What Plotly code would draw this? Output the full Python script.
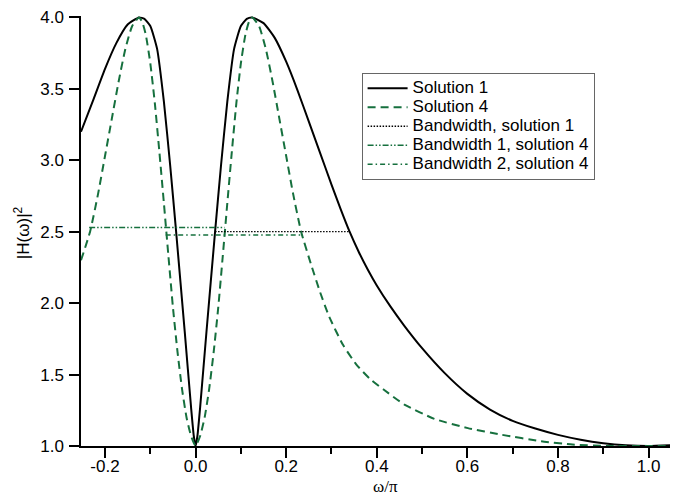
import plotly.graph_objects as go

# ---- data ----
sol1_x = [-0.253, -0.225, -0.20, -0.175, -0.15, -0.125,
          -0.113, -0.10, -0.085, -0.07, -0.056, -0.043, -0.024, -0.01, -0.004, 0.0,
          0.004, 0.01, 0.024, 0.043, 0.056, 0.07, 0.085, 0.10, 0.113, 0.125,
          0.15, 0.175, 0.20, 0.225, 0.25, 0.275, 0.30, 0.32, 0.34, 0.36,
          0.38, 0.40, 0.43, 0.46, 0.50, 0.55, 0.60, 0.65, 0.70, 0.75,
          0.80, 0.85, 0.90, 0.95, 1.0, 1.065]
sol1_y = [3.20, 3.43, 3.64, 3.82, 3.95, 4.00,
          3.99, 3.94, 3.78, 3.41, 2.96, 2.50, 1.80, 1.27, 1.07, 1.00,
          1.07, 1.27, 1.80, 2.50, 2.96, 3.41, 3.78, 3.94, 3.99, 4.00,
          3.96, 3.855, 3.69, 3.49, 3.27, 3.05, 2.83, 2.66, 2.50, 2.36,
          2.236, 2.124, 1.977, 1.845, 1.685, 1.51, 1.365, 1.255, 1.176, 1.122,
          1.078, 1.044, 1.0195, 1.005, 1.0, 1.008]

sol4_x = [-0.253, -0.233, -0.215, -0.20, -0.185, -0.17, -0.155, -0.14, -0.125,
          -0.118, -0.11, -0.10, -0.09, -0.08, -0.07, -0.06, -0.05, -0.04, -0.03, -0.02, -0.01, 0.0,
          0.01, 0.02, 0.03, 0.04, 0.05, 0.06, 0.07, 0.08, 0.09, 0.10, 0.11, 0.118, 0.125,
          0.14, 0.155, 0.17, 0.185, 0.20, 0.215, 0.233, 0.255, 0.275, 0.295,
          0.325, 0.355, 0.385, 0.415, 0.461, 0.527, 0.601, 0.675, 0.763, 0.832,
          0.907, 1.0, 1.065]
sol4_y = [2.30, 2.50, 2.77, 3.03, 3.29, 3.55, 3.78, 3.94, 4.00,
          3.97, 3.88, 3.68, 3.40, 3.06, 2.70, 2.33, 1.97, 1.66, 1.40, 1.20, 1.07, 1.00,
          1.07, 1.20, 1.40, 1.66, 1.97, 2.33, 2.70, 3.06, 3.40, 3.68, 3.88, 3.97, 4.00,
          3.94, 3.78, 3.55, 3.29, 3.03, 2.77, 2.50, 2.27, 2.075, 1.905,
          1.71, 1.57, 1.47, 1.395, 1.29, 1.19, 1.125, 1.079, 1.033, 1.01,
          1.0, 1.0, 1.0]

bw1_x = [0.043, 0.34]
bw1_y = [2.50, 2.50]
bw41_x = [-0.235, 0.064]
bw41_y = [2.53, 2.53]
bw42_x = [-0.066, 0.234]
bw42_y = [2.477, 2.477]

names = ["Solution 1", "Solution 4", "Bandwidth, solution 1",
         "Bandwidth 1, solution 4", "Bandwidth 2, solution 4"]

x_ticks = [-0.2, 0.0, 0.2, 0.4, 0.6, 0.8, 1.0]
y_ticks = [1.0, 1.5, 2.0, 2.5, 3.0, 3.5, 4.0]

GREEN = "#16703e"
FONT = "Liberation Sans, Arial, sans-serif"
SERIF = "Liberation Serif, Times New Roman, serif"


def lg(name):
    return '<span style="font-size:17px">' + name + '</span>'


fig = go.Figure()
fig.add_trace(go.Scatter(x=sol1_x, y=sol1_y, mode="lines", name=lg(names[0]),
                         line=dict(color="black", width=2, shape="spline", smoothing=0.5)))
fig.add_trace(go.Scatter(x=sol4_x, y=sol4_y, mode="lines", name=lg(names[1]),
                         line=dict(color=GREEN, width=2, dash="8px,5px", shape="spline", smoothing=0.5)))
fig.add_trace(go.Scatter(x=bw1_x, y=bw1_y, mode="lines", name=lg(names[2]),
                         line=dict(color="black", width=1.3, dash="1.5px,1.5px")))
fig.add_trace(go.Scatter(x=bw41_x, y=bw41_y, mode="lines", name=lg(names[3]),
                         line=dict(color=GREEN, width=1.5, dash="6px,2px,1.5px,2px,1.5px,2px")))
fig.add_trace(go.Scatter(x=bw42_x, y=bw42_y, mode="lines", name=lg(names[4]),
                         line=dict(color=GREEN, width=1.5, dash="5px,3px,1.5px,3px")))

# the page body adds an 8 px offset; the figure is sized so that it ends at the window edge
fig.update_layout(
    width=670, height=489,
    margin=dict(l=73, r=0, t=4.06, b=50.5),
    paper_bgcolor="white", plot_bgcolor="white",
    font=dict(family=FONT, size=17, color="black"),
    showlegend=True,
    legend=dict(x=0.47, y=0.868, xanchor="left", yanchor="top",
                bgcolor="white", bordercolor="#666", borderwidth=1,
                font=dict(family=FONT, size=11.5, color="black"),
                itemwidth=40, tracegroupgap=0),
    xaxis=dict(range=[-0.253, 1.065], tickvals=x_ticks, ticktext=[f"{v:.1f}" for v in x_ticks],
               showline=True, linecolor="black", linewidth=1.5,
               ticks="outside", ticklen=10, tickwidth=1.5, tickcolor="black",
               minor=dict(dtick=0.1, tick0=0, ticks="outside", ticklen=6, tickwidth=1.5, tickcolor="black"),
               showgrid=False, zeroline=False, ticklabelstandoff=-6, ticklabeloverflow="allow",
               tickfont=dict(family=FONT, size=17)),
    yaxis=dict(range=[1.0, 4.01], tickvals=y_ticks, ticktext=[f"{v:.1f}" for v in y_ticks],
               showline=True, linecolor="black", linewidth=1.5,
               ticks="outside", ticklen=10, tickwidth=1.5, tickcolor="black",
               showgrid=False, zeroline=False, ticklabelstandoff=2, ticklabeloverflow="allow",
               tickfont=dict(family=FONT, size=17)),
    annotations=[
        dict(text="ω/π", xref="paper", yref="paper", x=0.51, y=0, xanchor="center",
             yanchor="middle", yshift=-40, showarrow=False,
             font=dict(family=SERIF, size=17, color="black")),
        dict(text="|H(ω)|<sup>2</sup>", xref="paper", yref="paper", x=0, y=0.495,
             xanchor="center", yanchor="middle", xshift=-59, textangle=-90, showarrow=False,
             font=dict(family=FONT, size=17, color="black")),
    ],
)

fig.write_html("out.html")
